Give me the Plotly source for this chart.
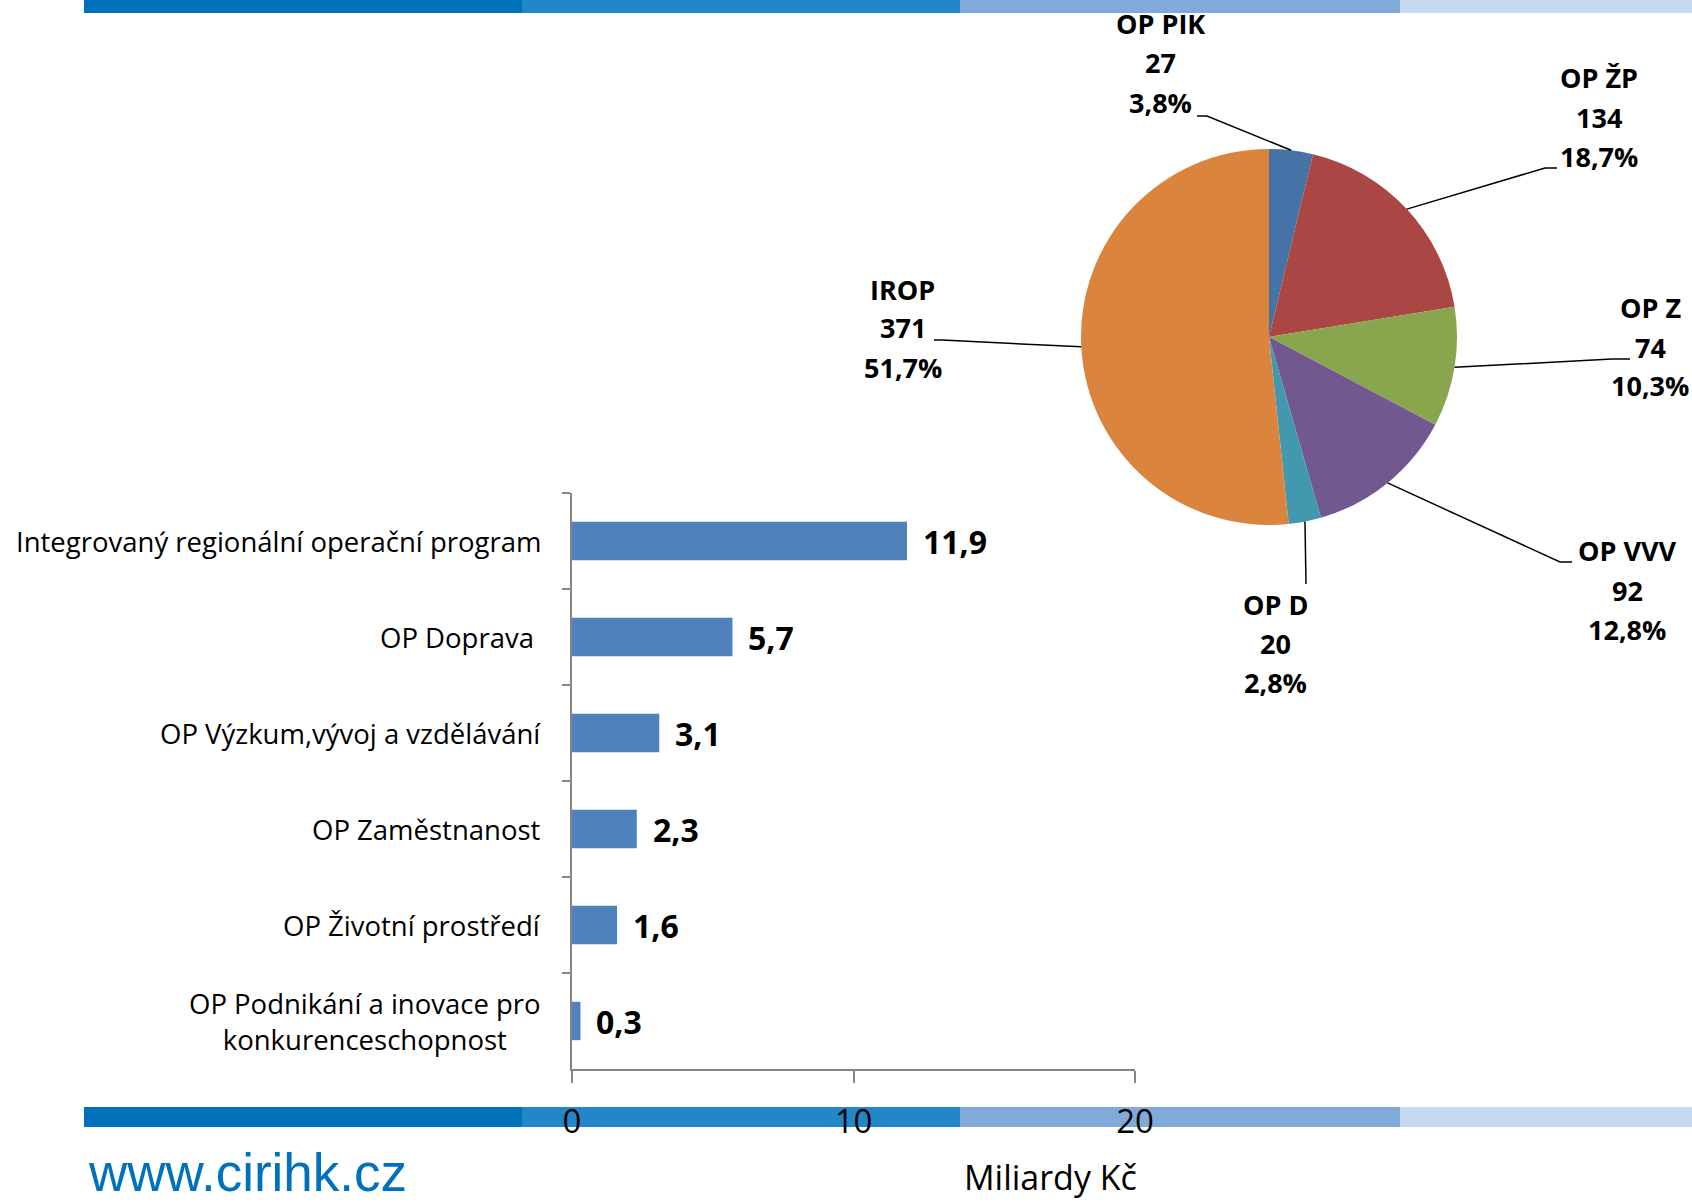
import numpy as np
import plotly.graph_objects as go

W, H = 1692, 1203

# ---------------- data ----------------
bar_categories = [
    "Integrovaný regionální operační program",
    "OP Doprava ",
    "OP Výzkum,vývoj a vzdělávání",
    "OP Zaměstnanost",
    "OP Životní prostředí",
    "OP Podnikání a inovace pro<br>konkurenceschopnost",
]
bar_values = [11.9, 5.7, 3.1, 2.3, 1.6, 0.3]
x_ticks = [0, 10, 20]
x_title = "Miliardy Kč"

pie_labels = ["OP PIK", "OP ŽP", "OP Z", "OP VVV", "OP D", "IROP"]
pie_values = [27, 134, 74, 92, 20, 371]

website = "www.cirihk.cz"

# ---------------- styles ----------------
pie_colors = ["#4572A7", "#AA4643", "#89A54E", "#71588F", "#4198AF", "#DB843D"]
bar_color = "#4F81BD"
axis_gray = "#868686"
stripe_colors = ["#0072BC", "#2386C8", "#7FAADA", "#C6D8EF"]
FONT = "'Open Sans', Calibri, sans-serif"


def px(x):
    return x / W


def py(y):
    return 1 - y / H


fig = go.Figure()

# ---------------- bar chart ----------------
fig.add_trace(go.Bar(
    x=bar_values, y=bar_categories, orientation="h",
    marker=dict(color=bar_color, line=dict(width=0)),
    xaxis="x", yaxis="y", showlegend=False, hoverinfo="x+y",
))

for cat, v in zip(bar_categories, bar_values):
    fig.add_annotation(
        x=v, y=cat, xref="x", yref="y", text=f"{v:.1f}".replace(".", ","),
        showarrow=False, xanchor="left", yanchor="middle", xshift=14,
        font=dict(family=FONT, size=32, color="black", weight="bold"),
    )
    fig.add_annotation(
        x=px(543), y=cat, xref="paper", yref="y", text=cat,
        showarrow=False, xanchor="right", yanchor="middle", align="center",
        font=dict(family=FONT, size=27.5, color="black"),
    )

fig.add_annotation(
    x=px(1050), y=py(1202), xref="paper", yref="paper", text=x_title,
    showarrow=False, xanchor="center", yanchor="bottom",
    font=dict(family=FONT, size=34, color="black"),
)

# ---------------- pie chart ----------------
cx, cy, R = 1269, 337, 188
fig.add_trace(go.Pie(
    labels=pie_labels, values=pie_values, sort=False, direction="clockwise",
    rotation=0, textinfo="none", showlegend=False, automargin=False,
    marker=dict(colors=pie_colors, line=dict(width=0)),
    domain=dict(x=[px(cx - R), px(cx + R)], y=[py(cy + R), py(cy - R)]),
))

vals = np.array(pie_values, dtype=float)
fracs = vals / vals.sum()
mids = np.cumsum(fracs) - fracs / 2
angles = mids * 2 * np.pi

# label layout: text centre x, first line centre y, elbow point, end point
pie_label_layout = [
    dict(tx=1160, ty=24, elbow=(1207, 116), end=(1197, 116)),
    dict(tx=1599, ty=78, elbow=(1545, 168), end=(1557, 168)),
    dict(tx=1650, ty=308, elbow=(1612, 359), end=(1630, 359)),
    dict(tx=1627, ty=551, elbow=(1560, 562), end=(1572, 562)),
    dict(tx=1275, ty=604, elbow=(1306, 584), end=(1306, 584)),
    dict(tx=903, ty=289, elbow=(942, 340), end=(934, 340)),
]
LINE_STEP = 39

for lab, v, f, a, lay in zip(pie_labels, pie_values, fracs, angles, pie_label_layout):
    ex = cx + R * np.sin(a)
    ey = cy - R * np.cos(a)
    (bx, by), (dx, dy) = lay["elbow"], lay["end"]
    fig.add_shape(
        type="path", xref="paper", yref="paper",
        path=f"M {px(ex)} {py(ey)} L {px(bx)} {py(by)} L {px(dx)} {py(dy)}",
        line=dict(color="black", width=1.5),
    )
    lines = [lab, str(v), f"{f * 100:.1f}%".replace(".", ",")]
    for i, t in enumerate(lines):
        fig.add_annotation(
            x=px(lay["tx"]), y=py(lay["ty"] + i * LINE_STEP), xref="paper", yref="paper",
            text=t, showarrow=False, xanchor="center", yanchor="middle",
            font=dict(family=FONT, size=27, color="black", weight="bold"),
        )

# ---------------- decorative stripes ----------------
stripe_edges = [84, 522, 960, 1400, 1692]
for (y0, y1) in [(0, 13), (1107, 1127)]:
    for i, c in enumerate(stripe_colors):
        fig.add_shape(
            type="rect", xref="paper", yref="paper", layer="below",
            x0=px(stripe_edges[i]), x1=px(stripe_edges[i + 1]), y0=py(y1), y1=py(y0),
            fillcolor=c, line=dict(width=0),
        )

fig.add_annotation(
    x=px(86), y=py(1172), xref="paper", yref="paper", text=website,
    showarrow=False, xanchor="left", yanchor="middle",
    font=dict(family="'Liberation Sans', Arial, sans-serif", size=53, color="#0072BC"),
)

# ---------------- layout ----------------
fig.update_layout(
    template="none",
    width=W, height=H, autosize=False,
    margin=dict(l=0, r=0, t=0, b=0, pad=0, autoexpand=False),
    paper_bgcolor="white", plot_bgcolor="rgba(0,0,0,0)",
    bargap=0.6,
    xaxis=dict(
        domain=[px(572), px(1135)], range=[0, 20], tickvals=x_ticks,
        showgrid=False, zeroline=False, showline=True, linecolor=axis_gray, linewidth=1.5,
        ticks="outside", ticklen=12, tickcolor=axis_gray, tickwidth=1.5,
        tickfont=dict(family=FONT, size=33, color="black"), ticklabelstandoff=11,
        anchor="y", automargin=False,
    ),
    yaxis=dict(
        domain=[py(1069), py(493)], type="category",
        categoryorder="array", categoryarray=bar_categories, autorange="reversed",
        showgrid=False, zeroline=False, showline=True, linecolor=axis_gray, linewidth=1.5,
        ticks="outside", ticklen=8, tickcolor=axis_gray, tickwidth=1.5, tickson="boundaries",
        showticklabels=False, anchor="x", automargin=False,
    ),
)

post = (
    "document.documentElement.style.margin='0';"
    "document.documentElement.style.overflow='hidden';"
    "document.body.style.margin='0';document.body.style.padding='0';"
    "document.body.style.overflow='hidden';"
    "var gd=document.getElementById('{plot_id}');"
    "Plotly.relayout(gd,{width:%d,height:%d});" % (W, H)
)

fig.write_html("out.html", config={"responsive": False, "displayModeBar": False},
               post_script=post)
